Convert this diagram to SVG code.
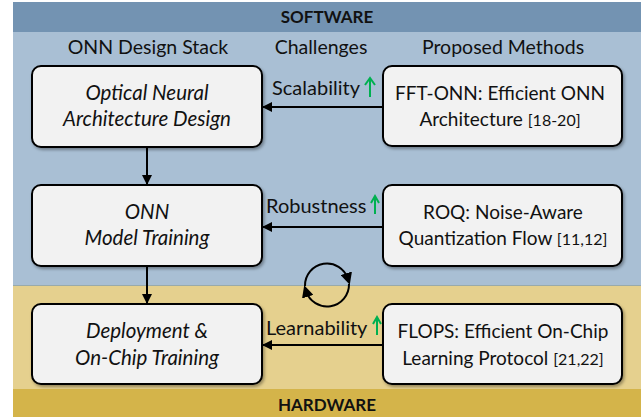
<svg xmlns="http://www.w3.org/2000/svg" width="641" height="417" viewBox="0 0 641 417">
<style>
.t{font-family:Lato,"Open Sans","DejaVu Sans",sans-serif;fill:#111;}
.hdr{font-size:19.5px;}
.band{font-size:17px;font-weight:bold;}
.it{font-size:20.5px;font-style:italic;}
.rt{font-size:19px;}
.ref{font-size:16px;}
.lab{font-size:20px;}
.box{fill:#F2F2F2;stroke:#000;stroke-width:2;filter:url(#sh);}
.con{stroke:#000;stroke-width:2;fill:none;}
.up{stroke:#00B050;stroke-width:2;fill:none;}
</style>
<defs>
<marker id="ah" markerWidth="10" markerHeight="10" refX="9" refY="5" orient="auto" markerUnits="userSpaceOnUse"><path d="M0,0 L10,5 L0,10 z" fill="#000"/></marker>
<marker id="ac" markerWidth="12" markerHeight="12" refX="6" refY="6" orient="auto" markerUnits="userSpaceOnUse"><path d="M0,0 L12,6 L0,12 z" fill="#000"/></marker>
<filter id="sh" x="-5%" y="-5%" width="115%" height="120%"><feDropShadow dx="1.5" dy="2" stdDeviation="1.5" flood-color="#000" flood-opacity="0.35"/></filter>
</defs>
<g id="background">
<rect x="13" y="2" width="628" height="30" fill="#7393B2"/>
<rect x="13" y="32" width="628" height="253" fill="#A9BFD4"/>
<rect x="13" y="285" width="628" height="104" fill="#E5D08E"/>
<rect x="13" y="389" width="628" height="28" fill="#D4B44A"/>
<line x1="13" y1="285.5" x2="641" y2="285.5" stroke="#9aa" stroke-width="1"/>
<text class="t band" x="327" y="23" text-anchor="middle">SOFTWARE</text>
<text class="t band" x="327" y="411" text-anchor="middle">HARDWARE</text>
<text class="t hdr" x="148" y="54" text-anchor="middle">ONN Design Stack</text>
<text class="t hdr" x="321" y="54" text-anchor="middle">Challenges</text>
<text class="t hdr" x="503" y="54" text-anchor="middle">Proposed Methods</text>
</g>
<g id="n1">
<rect class="box" x="32" y="66" width="230" height="81" rx="9"/>
<text class="t it" x="147" y="100" text-anchor="middle">Optical Neural</text>
<text class="t it" x="147" y="126" text-anchor="middle">Architecture Design</text>
</g>
<g id="n2">
<rect class="box" x="32" y="185" width="230" height="81" rx="9"/>
<text class="t it" x="147" y="219" text-anchor="middle">ONN</text>
<text class="t it" x="147" y="245" text-anchor="middle">Model Training</text>
</g>
<g id="n3">
<rect class="box" x="32" y="304" width="230" height="80" rx="9"/>
<text class="t it" x="147" y="338" text-anchor="middle">Deployment &amp;</text>
<text class="t it" x="147" y="365" text-anchor="middle">On-Chip Training</text>
</g>
<g id="m1">
<rect class="box" x="383" y="66" width="239" height="80" rx="9"/>
<text class="t rt" x="500" y="100" text-anchor="middle">FFT-ONN: Efficient ONN</text>
<text class="t rt" x="500" y="126" text-anchor="middle">Architecture <tspan class="ref">[18-20]</tspan></text>
</g>
<g id="m2">
<rect class="box" x="383" y="185" width="239" height="81" rx="9"/>
<text class="t rt" x="503" y="219" text-anchor="middle">ROQ: Noise-Aware</text>
<text class="t rt" x="503" y="245" text-anchor="middle">Quantization Flow <tspan class="ref">[11,12]</tspan></text>
</g>
<g id="m3">
<rect class="box" x="383" y="304" width="239" height="80" rx="9"/>
<text class="t rt" x="503" y="338" text-anchor="middle">FLOPS: Efficient On-Chip</text>
<text class="t rt" x="503" y="365" text-anchor="middle">Learning Protocol <tspan class="ref">[21,22]</tspan></text>
</g>
<g id="connectors">
<line class="con" x1="147" y1="147" x2="147" y2="184" marker-end="url(#ah)"/>
<line class="con" x1="147" y1="266" x2="147" y2="303" marker-end="url(#ah)"/>
<line class="con" x1="383" y1="107" x2="263" y2="107" marker-end="url(#ah)"/>
<line class="con" x1="383" y1="227" x2="263" y2="227" marker-end="url(#ah)"/>
<line class="con" x1="383" y1="345" x2="263" y2="345" marker-end="url(#ah)"/>
<text class="t lab" x="272" y="95">Scalability</text>
<text class="t lab" x="266" y="213">Robustness</text>
<text class="t lab" x="266" y="335">Learnability</text>
<path class="up" d="M370,97 V79 M365,85 L370,78 L375,85"/>
<path class="up" d="M375,214 V197 M371,203 L375,196 L379,203"/>
<path class="up" d="M377,335 V318 M373,324 L377,317 L381,324"/>
<path class="con" d="M305,286 A22,22 0 0 1 348,279" stroke-width="2.5" marker-end="url(#ac)"/>
<path class="con" d="M349,284 A22,22 0 0 1 306,291" stroke-width="2.5" marker-end="url(#ac)"/>
</g>
</svg>
